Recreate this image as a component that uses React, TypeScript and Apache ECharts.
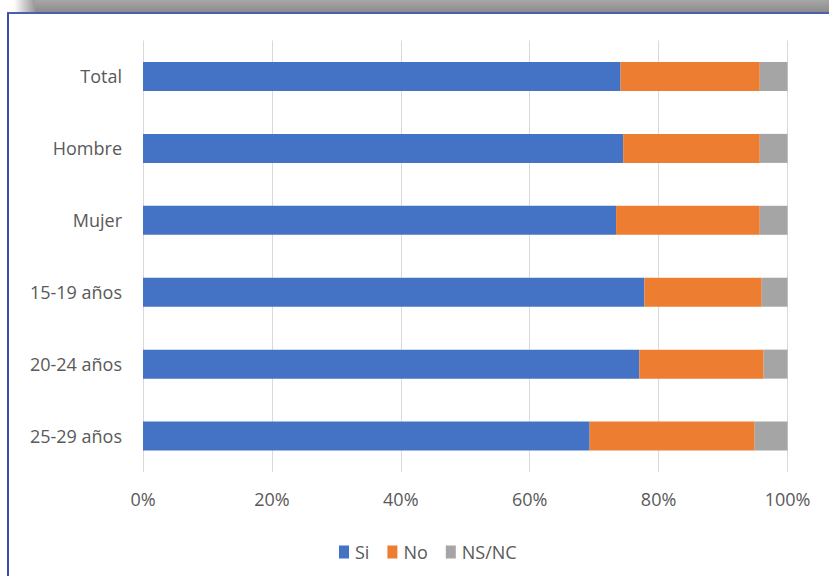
import React, { useEffect, useRef } from "react";
import * as echarts from "echarts";

const categories = ["Total", "Hombre", "Mujer", "15-19 años", "20-24 años", "25-29 años"];
const siValues = [74.1, 74.5, 73.4, 77.8, 77.0, 69.3];
const noValues = [21.6, 21.2, 22.3, 18.2, 19.3, 25.6];
const nsncValues = [4.3, 4.3, 4.3, 4.0, 3.7, 5.1];
const seriesNames = ["Si", "No", "NS/NC"];

const FONT = "'Open Sans', 'Noto Sans', sans-serif";
const TEXT_COLOR = "#595959";

export default function App() {
  const ref = useRef<HTMLDivElement>(null);

  useEffect(() => {
    if (!ref.current) return;
    const chart = echarts.init(ref.current, undefined, { renderer: "svg" });
    const barCommon = {
      type: "bar" as const,
      stack: "total",
      barWidth: 29,
    };
    chart.setOption({
      animation: false,
      backgroundColor: "#ffffff",
      textStyle: { fontFamily: FONT },
      graphic: [
        {
          type: "rect",
          silent: true,
          shape: { x: 35, y: 0, width: 800, height: 12 },
          style: {
            fill: new echarts.graphic.LinearGradient(0, 0, 0, 1, [
              { offset: 0, color: "#a6a6a6" },
              { offset: 1, color: "#8c8c8c" },
            ]),
          },
        },
        {
          type: "rect",
          silent: true,
          shape: { x: 14, y: 0, width: 21, height: 12 },
          style: {
            fill: new echarts.graphic.LinearGradient(0, 0, 1, 0, [
              { offset: 0, color: "rgba(150,150,150,0)" },
              { offset: 1, color: "#999999" },
            ]),
          },
        },
        {
          type: "line",
          silent: true,
          shape: { x1: 7, y1: 13, x2: 829, y2: 13 },
          style: { stroke: "#4a5fae", lineWidth: 2 },
        },
        {
          type: "line",
          silent: true,
          shape: { x1: 8, y1: 13, x2: 8, y2: 576 },
          style: { stroke: "#3a4fa8", lineWidth: 2 },
        },
      ],
      grid: { left: 143, right: 41.5, top: 40.5, bottom: 104, containLabel: false },
      legend: {
        left: 334,
        top: 538,
        icon: "rect",
        itemWidth: 10,
        itemHeight: 13,
        itemGap: 18,
        data: seriesNames,
        textStyle: { fontSize: 18, color: TEXT_COLOR, fontFamily: FONT, padding: [0, 0, 0, 1] },
      },
      xAxis: {
        type: "value",
        min: 0,
        max: 100,
        interval: 20,
        axisLine: { show: false },
        axisTick: { show: false },
        splitLine: { show: true, lineStyle: { color: "#d9d9d9", width: 1 } },
        axisLabel: {
          formatter: "{value}%",
          fontSize: 18,
          color: TEXT_COLOR,
          fontFamily: FONT,
          margin: 18,
        },
      },
      yAxis: {
        type: "category",
        inverse: true,
        data: categories,
        axisLine: { show: false },
        axisTick: { show: false },
        axisLabel: { fontSize: 18, color: TEXT_COLOR, fontFamily: FONT, margin: 21 },
      },
      series: [
        { ...barCommon, name: seriesNames[0], data: siValues, itemStyle: { color: "#4472c4" } },
        { ...barCommon, name: seriesNames[1], data: noValues, itemStyle: { color: "#ed7d31" } },
        { ...barCommon, name: seriesNames[2], data: nsncValues, itemStyle: { color: "#a5a5a5" } },
      ],
    });
    return () => chart.dispose();
  }, []);

  return (
    <div
      ref={ref}
      style={{ position: "absolute", left: 0, top: 0, width: 829, height: 576 }}
    />
  );
}
